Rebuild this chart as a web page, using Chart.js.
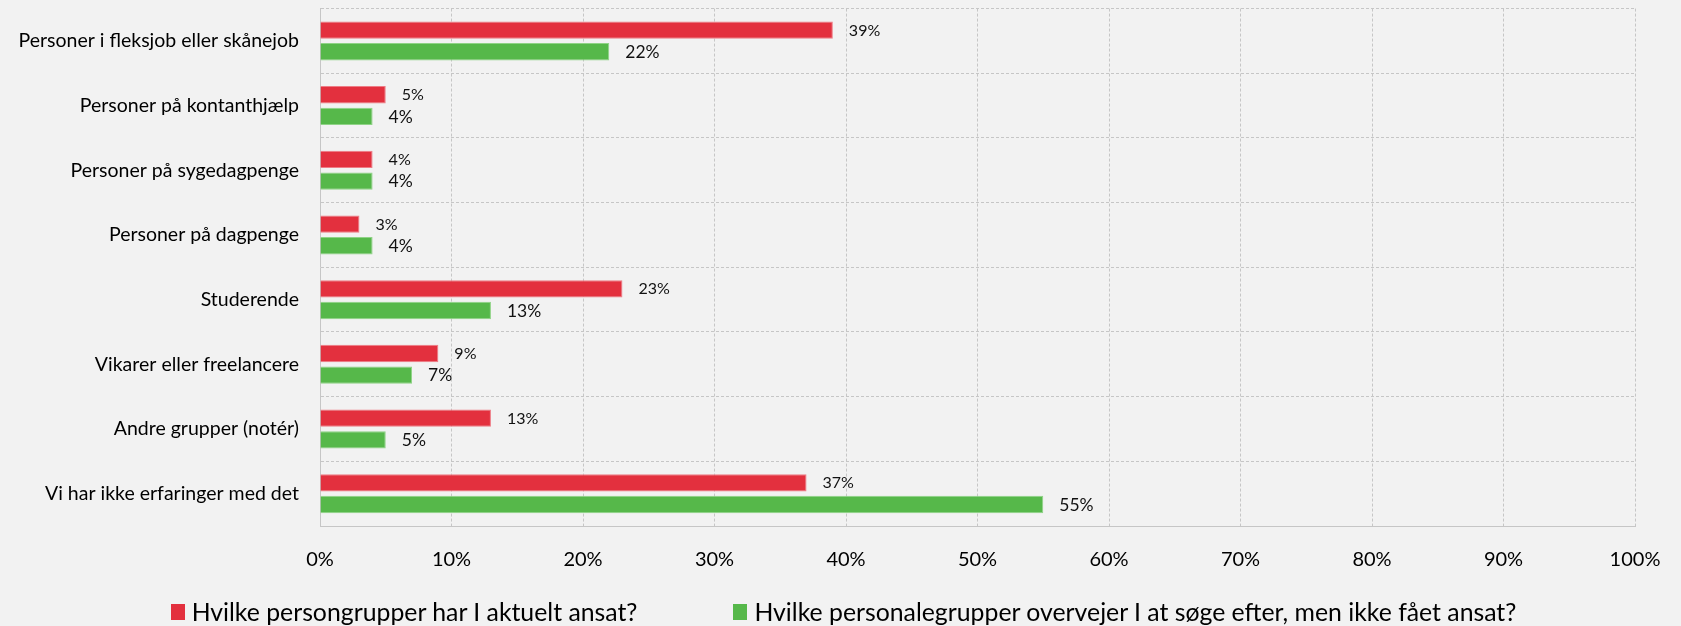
<!DOCTYPE html>
<html>
<head>
<meta charset="utf-8">
<title>Personalegrupper</title>
<script src="https://cdn.jsdelivr.net/npm/chart.js@4.4.1/dist/chart.umd.min.js"></script>
<style>
  html, body { margin: 0; padding: 0; background: #f2f2f2; }
  #wrap { position: relative; width: 1681px; height: 626px; }
  #legend {
    position: absolute; left: 6px; right: 0; top: 597px;
    display: flex; justify-content: center; gap: 96px;
    font-family: Lato, sans-serif; font-size: 24.8px; color: #000; line-height: 30px;
  }
  #legend .item { display: flex; align-items: center; white-space: nowrap; }
  #legend .box { width: 14px; height: 16px; margin-right: 7px; }
</style>
</head>
<body>
<div id="wrap">
  <canvas id="chart" width="1681" height="626"></canvas>
  <div id="legend"></div>
</div>
<script>
const categories = [
  'Personer i fleksjob eller skånejob',
  'Personer på kontanthjælp',
  'Personer på sygedagpenge',
  'Personer på dagpenge',
  'Studerende',
  'Vikarer eller freelancere',
  'Andre grupper (notér)',
  'Vi har ikke erfaringer med det'
];
const seriesNames = [
  'Hvilke persongrupper har I aktuelt ansat?',
  'Hvilke personalegrupper overvejer I at søge efter, men ikke fået ansat?'
];
const employedValues = [39, 5, 4, 3, 23, 9, 13, 37];
const soughtValues = [22, 4, 4, 4, 13, 7, 5, 55];
const seriesColors = ['#e3303e', '#56b84a'];
const seriesEdges = ['#ee7c85', '#8fd386'];
const labelSizes = [16, 17.5];

const gridColor = '#c6c6c6';
const fontFamily = 'Lato, sans-serif';

// value labels to the right of each bar
const valueLabels = {
  id: 'valueLabels',
  afterDatasetsDraw(chart) {
    const ctx = chart.ctx;
    ctx.save();
    ctx.fillStyle = '#111';
    ctx.textBaseline = 'middle';
    ctx.textAlign = 'left';
    chart.data.datasets.forEach((ds, i) => {
      const meta = chart.getDatasetMeta(i);
      ctx.font = labelSizes[i] + 'px ' + fontFamily;
      meta.data.forEach((bar, j) => {
        ctx.fillText(ds.data[j] + '%', bar.x + 16, bar.y + 0.5);
      });
    });
    ctx.restore();
  }
};

const chart = new Chart(document.getElementById('chart'), {
  type: 'bar',
  data: {
    labels: categories,
    datasets: [
      { label: seriesNames[0], data: employedValues, backgroundColor: seriesColors[0], borderColor: seriesEdges[0], borderWidth: 1 },
      { label: seriesNames[1], data: soughtValues, backgroundColor: seriesColors[1], borderColor: seriesEdges[1], borderWidth: 1 }
    ]
  },
  options: {
    indexAxis: 'y',
    responsive: false,
    animation: false,
    categoryPercentage: 0.67,
    barPercentage: 0.8,
    layout: { padding: { left: 10, right: 46, top: 8, bottom: 0 } },
    plugins: {
      legend: { display: false },
      tooltip: { enabled: false }
    },
    scales: {
      x: {
        min: 0,
        max: 100,
        ticks: {
          stepSize: 10,
          padding: 0,
          color: '#000',
          font: { family: fontFamily, size: 20 },
          callback: v => v + '%'
        },
        grid: { color: gridColor, tickLength: 22, tickColor: 'rgba(0,0,0,0)' },
        border: { color: gridColor, dash: [3, 2] },
        afterFit: s => { s.height = 100; }
      },
      y: {
        ticks: {
          padding: 0,
          color: '#000',
          font: { family: fontFamily, size: 19.5, lineHeight: 0.88 }
        },
        grid: { color: gridColor, tickLength: 21, tickColor: 'rgba(0,0,0,0)', offset: true },
        border: { color: gridColor, dash: [3, 2] },
        afterFit: s => { s.width = 310; }
      }
    }
  },
  plugins: [valueLabels]
});

// dashed grid lines
chart.options.scales.x.grid.borderDash = [3, 2];
chart.options.scales.y.grid.borderDash = [3, 2];
chart.update();

const legend = document.getElementById('legend');
chart.data.datasets.forEach(ds => {
  const item = document.createElement('div');
  item.className = 'item';
  const box = document.createElement('span');
  box.className = 'box';
  box.style.background = ds.backgroundColor;
  item.appendChild(box);
  item.appendChild(document.createTextNode(ds.label));
  legend.appendChild(item);
});
</script>
</body>
</html>
